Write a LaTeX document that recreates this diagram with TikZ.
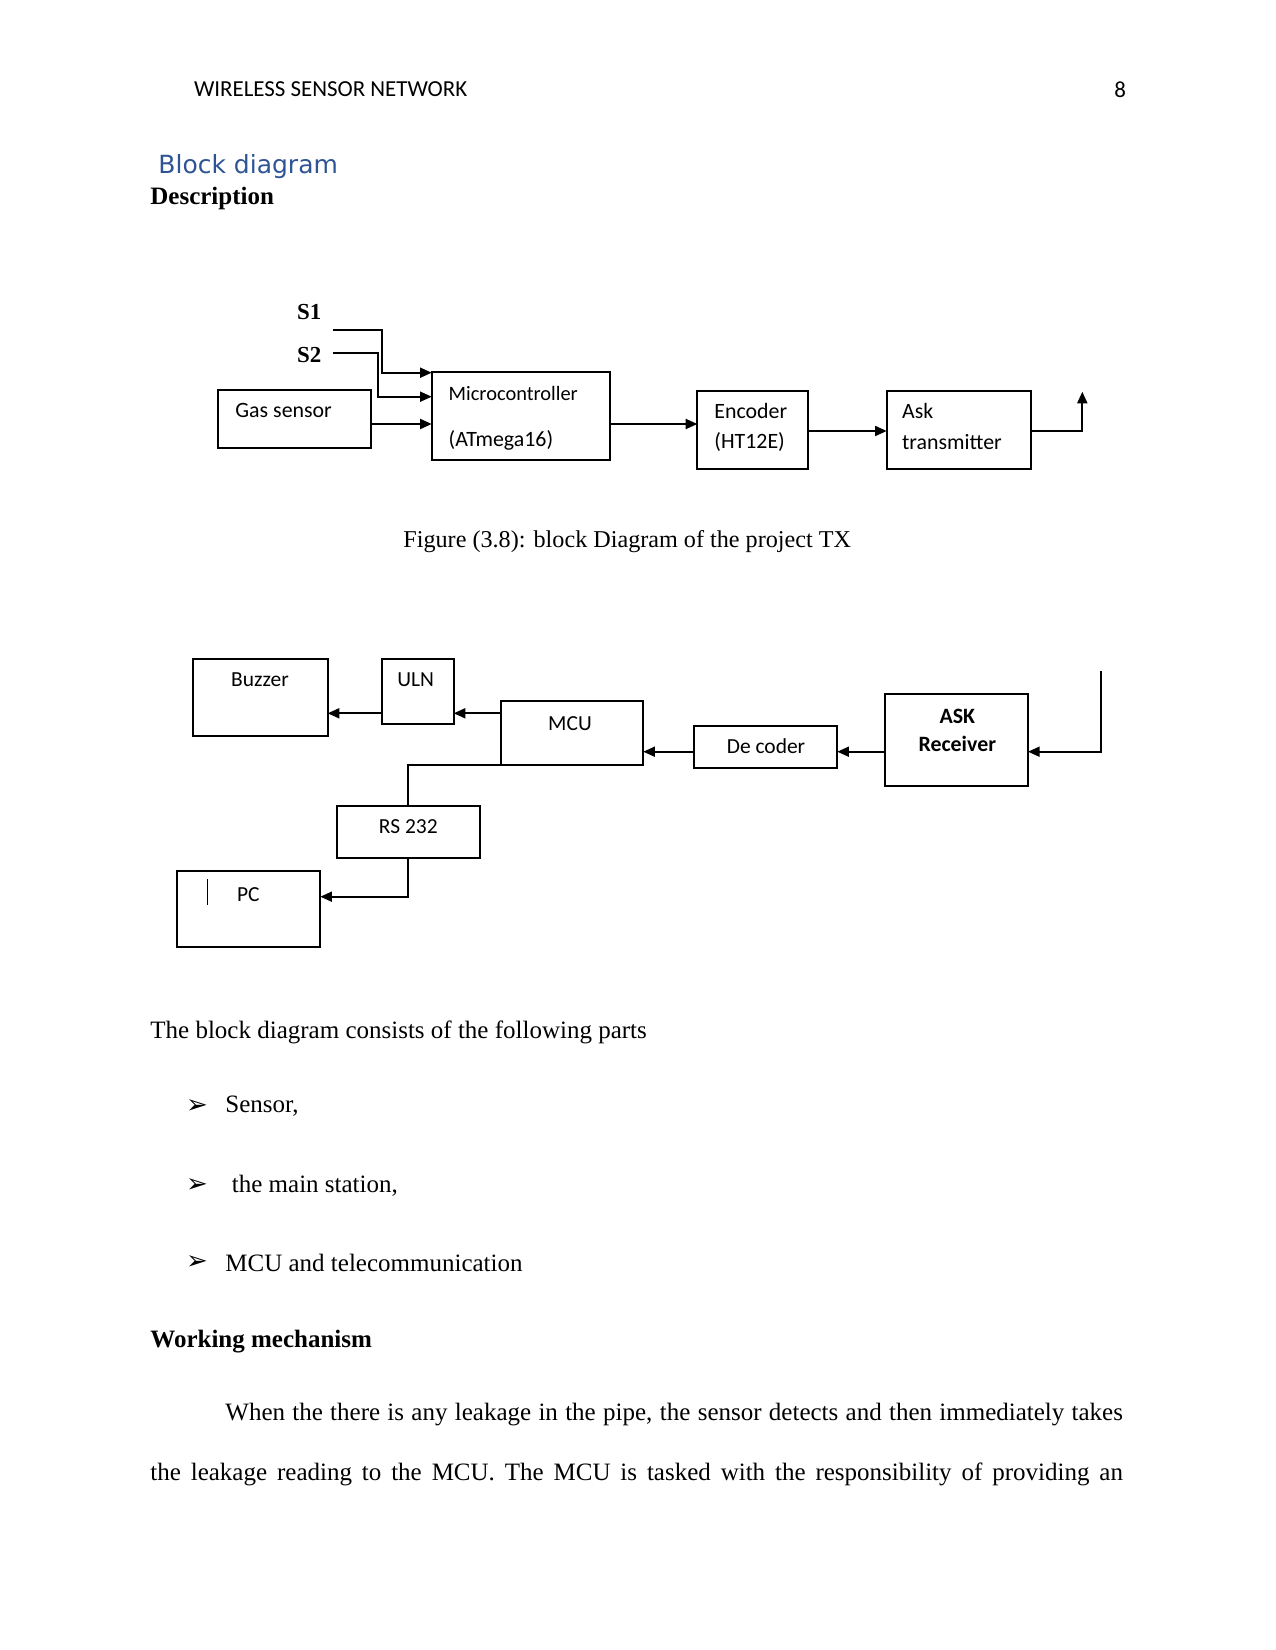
\documentclass[tikz,border=0pt]{standalone}
\usepackage{fontspec}
\setmainfont{Liberation Serif}
\newfontfamily\calfont{Carlito}
\newfontfamily\djfont{DejaVu Sans}
\usetikzlibrary{arrows.meta}
\definecolor{headblue}{HTML}{2F5496}
\newcommand\fs[1]{\fontsize{#1}{#1}\selectfont}
\newcommand\bx[5]{\node[box, minimum width={(#4-#2)*0.48pt}, minimum height={(#5-#3)*0.48pt}] (#1) at ({(#2+#4)/2},{(#3+#5)/2}) {};}
\begin{document}
\begin{tikzpicture}[x=0.48pt,y=-0.48pt,
  box/.style={draw, line width=0.95pt, inner sep=0pt, outer sep=0pt},
  arr/.style={line width=0.95pt, -{Triangle[length=5.6pt,width=4.8pt]}},
  ln/.style={line width=0.95pt},
  lbl/.style={inner sep=0pt, anchor=west, font=\calfont\fs{10.5}},
  clbl/.style={inner sep=0pt, font=\calfont\fs{10.3}},
  body/.style={inner sep=0pt, anchor=west, font=\fs{12}},
  bodyb/.style={inner sep=0pt, anchor=west, font=\bfseries\fs{12}},
  bul/.style={inner sep=0pt, font=\djfont\fs{12.5}}]
\useasboundingbox[fill=white] (0,0) rectangle (1275,1650);

% header
\node[inner sep=0pt, anchor=west, font=\calfont\fs{11}] (hdr) at (193.6,89.4) {WIRELESS SENSOR NETWORK};
\node[inner sep=0pt, anchor=west, font=\calfont\fs{11}] (pg) at (1114,89.4) {8};
\node[inner sep=0pt, anchor=west, font=\djfont\fs{12}, text=headblue] (bd) at (158,167) {Block diagram};
\node[bodyb] (desc) at (150,198.7) {Description};

% ---------- diagram 1 ----------
\node[inner sep=0pt, anchor=west, font=\bfseries\fs{11}] (s1) at (296.7,312.3) {S1};
\node[inner sep=0pt, anchor=west, font=\bfseries\fs{11}] (s2) at (296.7,355) {S2};
\bx{gas}{218.3}{390}{370.7}{447.7}
\bx{micro}{431.7}{371.7}{610}{460.3}
\bx{enc}{697.3}{390.7}{808.3}{469}
\bx{ask}{886.7}{390.7}{1030.7}{469}

\node[lbl] (tgas) at (235,410.7) {Gas sensor};
\node[lbl, font=\calfont\fs{9.8}] (tmic1) at (448.3,393) {Microcontroller};
\node[lbl] (tmic2) at (448.3,440) {(ATmega16)};
\node[lbl] (tenc1) at (714,410.7) {Encoder};
\node[lbl] (tenc2) at (714,441.7) {(HT12E)};
\node[lbl] (task1) at (901.7,410.7) {Ask};
\node[lbl] (task2) at (901.7,441.7) {transmitter};

\coordinate (s1o) at (332.7,330);
\coordinate (s2o) at (332.7,353.3);
\coordinate (txout) at (1082.3,391.7);
\draw[arr] (s1o) -- (382.3,330) |- (micro.west |- 0,372.7);
\draw[arr] (s2o) -- (378.3,353.3) |- (micro.west |- 0,396.7);
\draw[arr] (gas.east |- 0,424) -- (micro.west |- 0,424);
\draw[arr] (micro.east |- 0,424) -- (enc.west |- 0,424);
\draw[arr] (enc.east |- 0,431) -- (ask.west |- 0,431);
\draw[arr] (ask.east |- 0,431) -| (txout);

\node[inner sep=0pt, anchor=west, font=\fs{11.6}] (cap) at (403,541.7) {Figure (3.8): block Diagram of the project TX};

% ---------- diagram 2 ----------
\bx{buz}{192.7}{659}{327.7}{736.3}
\bx{uln}{382.3}{659}{453.7}{724}
\bx{mcu}{500.7}{701.3}{643.3}{765}
\bx{dec}{694.3}{725.7}{837.3}{768}
\bx{rx}{885.3}{693.7}{1028}{786.3}
\bx{rs}{336.7}{806}{480}{857.7}
\bx{pc}{177.3}{871}{320.3}{946.7}

\node[clbl] (tbuz) at (260,679.3) {Buzzer};
\node[clbl] (tuln) at (415.7,679.3) {ULN};
\node[clbl] (tmcu) at (570,723.3) {MCU};
\node[clbl] (tdec) at (766,746) {De coder};
\node[clbl, font=\calfont\bfseries\fs{10.5}] (trx1) at (957.3,716) {ASK};
\node[clbl, font=\calfont\bfseries\fs{10.5}] (trx2) at (957.3,744.3) {Receiver};
\node[clbl] (trs) at (408.3,826.7) {RS 232};
\node[clbl] (tpc) at (248.3,895) {PC};
\draw[line width=0.6pt] (207.7,879) -- (207.7,905);

\coordinate (rxin) at (1101,670.7);
\draw[arr] (mcu.west |- 0,713.3) -- (uln.east |- 0,713.3);
\draw[arr] (uln.west |- 0,713.3) -- (buz.east |- 0,713.3);
\draw[arr] (dec.west |- 0,751.7) -- (mcu.east |- 0,751.7);
\draw[arr] (rx.west |- 0,751.7) -- (dec.east |- 0,751.7);
\draw[arr] (rxin) |- (rx.east |- 0,751.7);
\draw[ln] (mcu.south west) -| (rs.north);
\draw[arr] (rs.south) |- (pc.east |- 0,896.7);

% ---------- text ----------
\node[body] (p1) at (150,1032.5) {The block diagram consists of the following parts};
\node[bul] (b1) at (197,1106.5) {➢};
\node[body] (l1) at (225,1106.5) {Sensor,};
\node[bul] (b2) at (197,1185.5) {➢};
\node[body] (l2) at (231.5,1185.5) {the main station,};
\node[bul] (b3) at (197,1263) {➢};
\node[body] (l3) at (225,1263) {MCU and telecommunication};
\node[bodyb] (wm) at (150,1341.5) {Working mechanism};
\node[body] (pa) at (225,1415) {\makebox[430.8pt][s]{When the there is any leakage in the pipe, the sensor detects and then immediately takes}};
\node[body] (pb) at (150,1474) {\makebox[466.8pt][s]{the leakage reading to the MCU. The MCU is tasked with the responsibility of providing an}};
\end{tikzpicture}
\end{document}
